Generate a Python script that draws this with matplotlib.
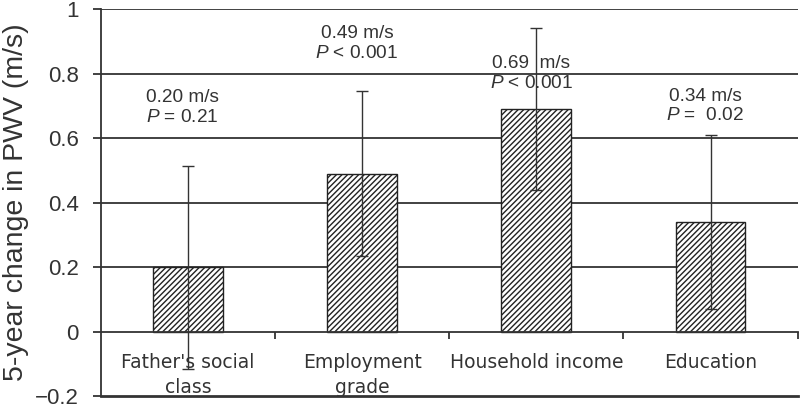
import matplotlib.pyplot as plt

plt.rcParams['font.family'] = ['Liberation Sans', 'DejaVu Sans']
plt.rcParams['mathtext.fontset'] = 'custom'
plt.rcParams['mathtext.it'] = 'Liberation Sans:italic'
plt.rcParams['mathtext.rm'] = 'Liberation Sans'
plt.rcParams['hatch.linewidth'] = 1.0
plt.rcParams['axes.unicode_minus'] = True

categories = ["Father's social\nclass", "Employment\ngrade", "Household income", "Education"]
change = [0.20, 0.49, 0.69, 0.34]
err = [0.315, 0.255, 0.25, 0.27]
labels = ["0.20 m/s\n$\\it{P}$ = 0.21", "0.49 m/s\n$\\it{P}$ < 0.001",
          "0.69  m/s\n$\\it{P}$ < 0.001", "0.34 m/s\n$\\it{P}$ =  0.02"]

# where the text blocks sit (data y of block centre)
label_y = [0.694, 0.893, 0.80, 0.70]

dark = '#333333'
fig = plt.figure(figsize=(8, 4.07), dpi=100)
ax = fig.add_axes([0.126, 0.026, 0.871, 0.952])

x = range(len(categories))
ax.bar(x, change, width=0.4, color='white', edgecolor='#222222', hatch='//////',
       linewidth=1.0, zorder=2)
ax.errorbar(x, change, yerr=err, fmt='none', ecolor=dark, elinewidth=1.0,
            capsize=4, capthick=1.0, zorder=3)

for i, t in enumerate(labels):
    ax.text(i - 0.03, label_y[i], t, ha='center', va='center', fontsize=13.7,
            color=dark, linespacing=1.2, zorder=4)

ax.set_xlim(-0.5, 3.5)
ax.set_ylim(-0.2, 1.0)
ax.set_yticks([-0.2, 0, 0.2, 0.4, 0.6, 0.8, 1.0])
ax.set_yticklabels(['\u22120.2', '0', '0.2', '0.4', '0.6', '0.8', '1'])
for yv in [0.2, 0.4, 0.6, 0.8, 1.0]:
    ax.axhline(yv, color=dark, linewidth=1.3, zorder=1)
ax.axhline(-0.2, color=dark, linewidth=2.0, zorder=1, clip_on=False)

ax.spines['top'].set_visible(False)
ax.spines['right'].set_visible(False)
ax.spines['bottom'].set_position(('data', 0))
ax.spines['bottom'].set_color(dark)
ax.spines['bottom'].set_linewidth(1.3)
ax.spines['left'].set_color(dark)
ax.spines['left'].set_linewidth(1.3)

ax.set_xticks(list(x))
ax.set_xticklabels(categories, fontsize=13.5, color=dark, linespacing=1.45,
                   family='DejaVu Sans')
ax.set_xticks([0.5, 1.5, 2.5, 3.5], minor=True)
ax.tick_params(axis='x', which='major', length=0, pad=15)
ax.tick_params(axis='x', which='minor', length=5, width=1.3, color=dark, direction='out')
ax.tick_params(axis='y', length=6, width=1.3, color=dark, labelsize=16, labelcolor=dark, pad=10)

ax.set_ylabel('5-year change in PWV (m/s)', fontsize=20.5, color=dark, labelpad=4)

fig.savefig('out.png', dpi=100)
